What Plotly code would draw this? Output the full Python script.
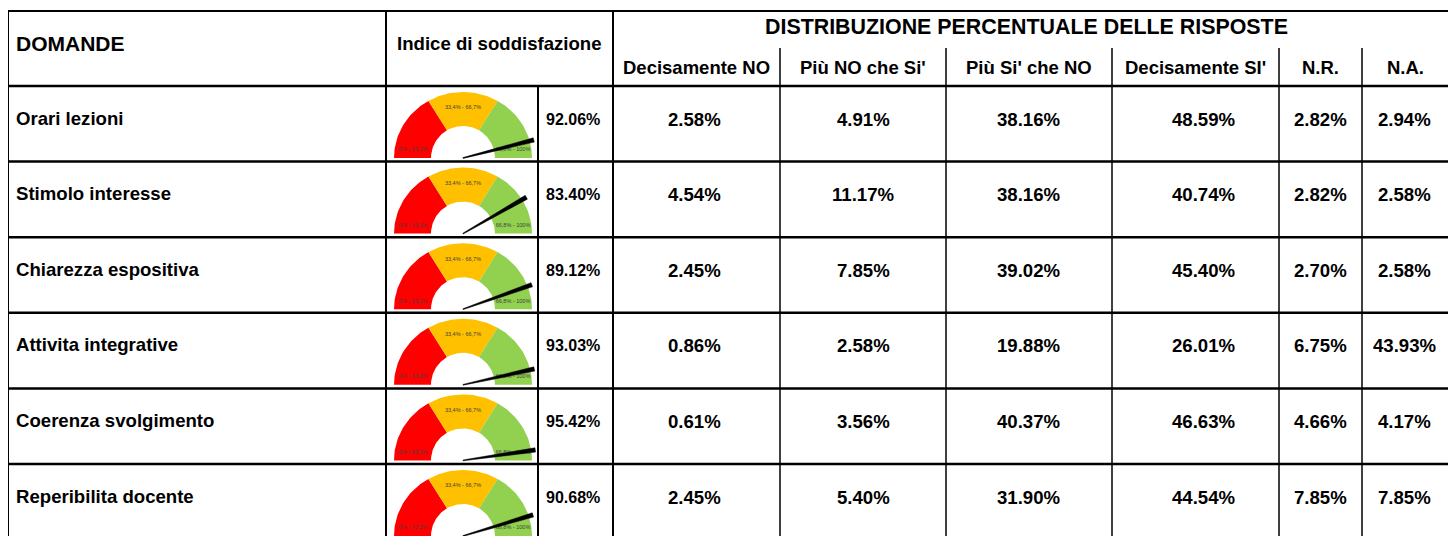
import numpy as np
import plotly.graph_objects as go

# ---------------- data ----------------
questions = ["Orari lezioni", "Stimolo interesse", "Chiarezza espositiva",
             "Attivita integrative", "Coerenza svolgimento", "Reperibilita docente"]
indice = [92.06, 83.40, 89.12, 93.03, 95.42, 90.68]
dec_no = [2.58, 4.54, 2.45, 0.86, 0.61, 2.45]
piu_no = [4.91, 11.17, 7.85, 2.58, 3.56, 5.40]
piu_si = [38.16, 38.16, 39.02, 19.88, 40.37, 31.90]
dec_si = [48.59, 40.74, 45.40, 26.01, 46.63, 44.54]
n_r = [2.82, 2.82, 2.70, 6.75, 4.66, 7.85]
n_a = [2.94, 2.58, 2.58, 43.93, 4.17, 7.85]

dist_headers = ["Decisamente NO", "Più NO che Si'", "Più Si' che NO",
                "Decisamente SI'", "N.R.", "N.A."]
gauge_bounds = [0, 33.3, 66.7, 100]
gauge_labels = ["0% - 33,3%", "33,4% - 66,7%", "66,8% - 100%"]
gauge_colors = ["#FF0000", "#FFC000", "#92D050"]

# ---------------- layout geometry ----------------
VW, VH = 1456, 536          # viewport
OFF = 8                     # default page body margin
col_x = [8, 386, 538, 613, 780, 946, 1112, 1279, 1362, 1449]
val_dx = [-2, 0, 0, 8, 0, -1]   # small horizontal nudges of the value texts
y_top, y_sub, y_head = 11, 48, 86
row_h = 75.6
FONT = "Liberation Sans, Arial, sans-serif"

fig = go.Figure()

def pt(cx, cy, r_x, r_y, v):
    th = np.pi * (1 - np.asarray(v) / 100.0)
    return cx + r_x * np.cos(th), cy - r_y * np.sin(th)

ann = []
def txt(x, y, s, size, anchor="center"):
    ann.append(dict(x=x, y=y, xref="x", yref="y", text="<b>%s</b>" % s, showarrow=False,
                    xanchor=anchor, yanchor="middle",
                    font=dict(family=FONT, size=size, color="black")))

# headers
txt(14, 43, "DOMANDE", 21, "left")
txt((col_x[1] + col_x[3]) / 2, 43, "Indice di soddisfazione", 18.6)
txt((col_x[3] + col_x[9]) / 2 - 5, 27, "DISTRIBUZIONE PERCENTUALE DELLE RISPOSTE", 21.4)
for j, h in enumerate(dist_headers):
    txt((col_x[3 + j] + col_x[4 + j]) / 2, 67, h, 18.5)

columns = [dec_no, piu_no, piu_si, dec_si, n_r, n_a]
rx_o, ry_o, rx_i, ry_i = 69, 66, 32, 32
for i, q in enumerate(questions):
    top = y_head + i * row_h
    ty = top + 32
    txt(14, ty, q, 18.6, "left")
    txt((col_x[2] + col_x[3]) / 2 - 3, ty + 1, "%.2f%%" % indice[i], 16)
    for j, col in enumerate(columns):
        txt((col_x[3 + j] + col_x[4 + j]) / 2 + val_dx[j], ty + 1, "%.2f%%" % col[i], 18.6)

    # gauge
    cx, cy = 463, top + 72
    for k in range(3):
        vv = np.linspace(gauge_bounds[k], gauge_bounds[k + 1], 40)
        xo, yo = pt(cx, cy, rx_o, ry_o, vv)
        xi, yi = pt(cx, cy, rx_i, ry_i, vv[::-1])
        fig.add_trace(go.Scatter(x=np.r_[xo, xi, xo[0]], y=np.r_[yo, yi, yo[0]],
                                 fill="toself", fillcolor=gauge_colors[k],
                                 mode="lines", line=dict(width=0),
                                 hoverinfo="skip", showlegend=False))
    fig.add_trace(go.Scatter(x=[cx - 50, cx, cx + 50], y=[cy - 8, cy - 50, cy - 8],
                             mode="text", text=gauge_labels,
                             textfont=dict(family=FONT, size=5.5, color="#404040"),
                             hoverinfo="skip", showlegend=False))
    # needle
    th = np.pi * (1 - indice[i] / 100.0)
    ux, uy = np.cos(th), -np.sin(th)
    nx, ny = -uy, ux
    L, w0, w1 = 73, 0.4, 2.2
    xs = [cx + nx * w0, cx + ux * L + nx * w1, cx + ux * L - nx * w1, cx - nx * w0]
    ys = [cy + ny * w0, cy + uy * L + ny * w1, cy + uy * L - ny * w1, cy - ny * w0]
    fig.add_trace(go.Scatter(x=xs + [xs[0]], y=ys + [ys[0]], fill="toself",
                             fillcolor="black", mode="lines", line=dict(width=0.5, color="black"),
                             hoverinfo="skip", showlegend=False))

# grid lines
shapes = []
def line(x0, y0, x1, y1, w):
    shapes.append(dict(type="line", xref="x", yref="y", x0=x0, y0=y0, x1=x1, y1=y1,
                       line=dict(color="black", width=w), layer="above"))

bottom = VH + 10
line(col_x[0], y_top, col_x[-1], y_top, 2)
for i in range(len(questions)):
    line(col_x[0], y_head + i * row_h, col_x[-1], y_head + i * row_h, 2.5)
for xi in [col_x[0], col_x[1], col_x[3], col_x[-1]]:
    line(xi, y_top, xi, bottom, 2)
line(col_x[2], y_head, col_x[2], bottom, 2)
for xi in col_x[4:-1]:
    line(xi, y_sub, xi, bottom, 1.5)

fig.update_layout(
    width=VW - OFF, height=VH - OFF, margin=dict(l=0, r=0, t=0, b=0),
    paper_bgcolor="white", plot_bgcolor="white",
    xaxis=dict(range=[OFF, VW], visible=False, fixedrange=True),
    yaxis=dict(range=[VH, OFF], visible=False, fixedrange=True),
    annotations=ann, shapes=shapes, showlegend=False,
)
fig.write_html("out.html")
